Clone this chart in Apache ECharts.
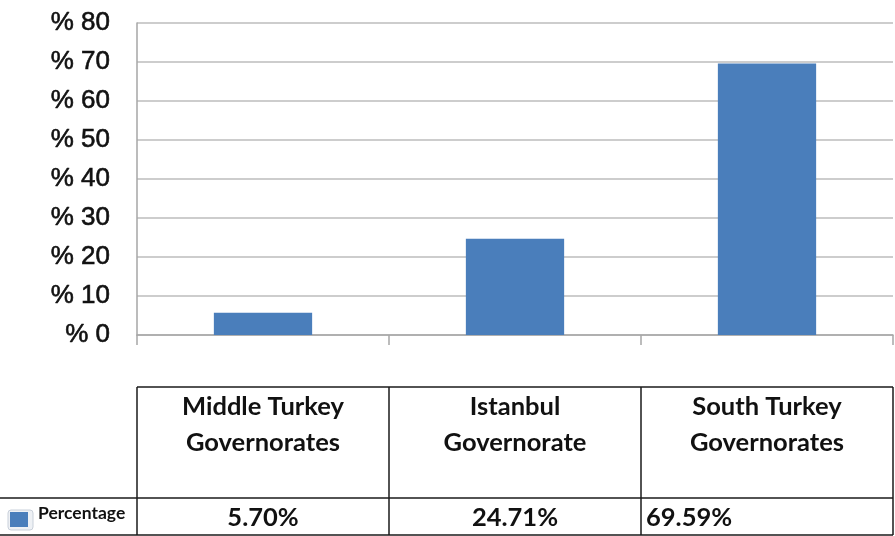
<!DOCTYPE html>
<html>
<head>
<meta charset="utf-8">
<style>
  html, body { margin: 0; padding: 0; background: #ffffff; }
  #chart { width: 895px; height: 536px; }
</style>
<script src="https://cdn.jsdelivr.net/npm/echarts@6/dist/echarts.min.js"></script>
</head>
<body>
<div id="chart"></div>
<script>
// Regions and their share of the total
const categories = ['Middle Turkey Governorates', 'Istanbul Governorate', 'South Turkey Governorates'];
const headerLines = [['Middle Turkey', 'Governorates'], ['Istanbul', 'Governorate'], ['South Turkey', 'Governorates']];
const percentage = [5.70, 24.71, 69.59];
const valueLabels = ['5.70%', '24.71%', '69.59%'];
const seriesName = 'Percentage';
const yTicks = [0, 10, 20, 30, 40, 50, 60, 70, 80];

const BAR_COLOR = '#4a7ebb';
const LINE = '#1a1a1a';
const TABLE_FONT = 'Lato, "Open Sans", sans-serif';

const chart = echarts.init(document.getElementById('chart'), null, { renderer: 'canvas' });

const baseOption = {
  animation: false,
  backgroundColor: '#ffffff',
  grid: { left: 137, right: 2, top: 23, bottom: 201, containLabel: false },
  xAxis: {
    type: 'category',
    data: categories,
    boundaryGap: true,
    axisLine: { show: true, lineStyle: { color: '#a6a6a6', width: 1.5 } },
    axisTick: { show: true, length: 10, lineStyle: { color: '#a6a6a6', width: 1.5 } },
    axisLabel: { show: false },
    splitLine: { show: false }
  },
  yAxis: {
    type: 'value',
    min: yTicks[0],
    max: yTicks[yTicks.length - 1],
    interval: 10,
    axisLine: { show: true, lineStyle: { color: '#a6a6a6', width: 1.5 } },
    axisTick: { show: false },
    axisLabel: {
      margin: 27,
      color: '#111111',
      fontSize: 26,
      fontFamily: '"Liberation Sans", Arial, sans-serif',
      textBorderColor: '#111111',
      textBorderWidth: 0.6,
      formatter: v => '% ' + v
    },
    splitLine: { show: true, lineStyle: { color: '#bdbdbd', width: 1.5 } }
  },
  series: [{
    name: seriesName,
    type: 'bar',
    data: percentage,
    barWidth: '39%',
    itemStyle: { color: BAR_COLOR }
  }]
};

chart.setOption(baseOption);

// Data table beneath the plot: column edges follow the category axis
function buildTable() {
  const n = categories.length;
  const centers = categories.map((c, i) => chart.convertToPixel({ xAxisIndex: 0 }, i));
  const step = n > 1 ? centers[1] - centers[0] : 250;
  const edges = [centers[0] - step / 2];
  centers.forEach(c => edges.push(c + step / 2));
  const right = Math.min(edges[n], 893);
  edges[n] = right;

  const yTop = 387, yMid = 498, yBot = 535;
  const els = [];
  const line = (x1, y1, x2, y2) => els.push({
    type: 'line', shape: { x1, y1, x2, y2 },
    style: { stroke: LINE, lineWidth: 1.5 }
  });

  line(edges[0], yTop, right, yTop);
  line(0, yMid, right, yMid);
  line(0, yBot, right, yBot);
  edges.forEach(x => line(x, yTop, x, yBot));

  headerLines.forEach((lines, i) => {
    const cx = (edges[i] + edges[i + 1]) / 2;
    lines.forEach((t, k) => els.push({
      type: 'text',
      style: {
        x: cx, y: 407 + k * 36, text: t,
        fontFamily: TABLE_FONT, fontWeight: 'bold', fontSize: 25.5,
        fill: '#111111', align: 'center', verticalAlign: 'middle'
      }
    }));
  });

  valueLabels.forEach((t, i) => {
    const last = i === n - 1;
    els.push({
      type: 'text',
      style: {
        x: last ? edges[i] + 5 : (edges[i] + edges[i + 1]) / 2,
        y: 518, text: t,
        fontFamily: TABLE_FONT, fontWeight: 'bold', fontSize: 25.5,
        fill: '#111111', align: last ? 'left' : 'center', verticalAlign: 'middle'
      }
    });
  });

  // legend key for the series row
  els.push({
    type: 'rect', shape: { x: 8, y: 510, width: 25, height: 20, r: 3 },
    style: { fill: '#eef1f5', stroke: '#c9d0da', lineWidth: 1 }
  });
  els.push({
    type: 'rect', shape: { x: 10, y: 512, width: 18, height: 15 },
    style: { fill: BAR_COLOR }
  });
  els.push({
    type: 'text',
    style: {
      x: 38, y: 513, text: seriesName,
      fontFamily: TABLE_FONT, fontWeight: 'bold', fontSize: 17.5,
      fill: '#111111', align: 'left', verticalAlign: 'middle'
    }
  });

  chart.setOption({ graphic: { elements: els } });
}

buildTable();
</script>
</body>
</html>
